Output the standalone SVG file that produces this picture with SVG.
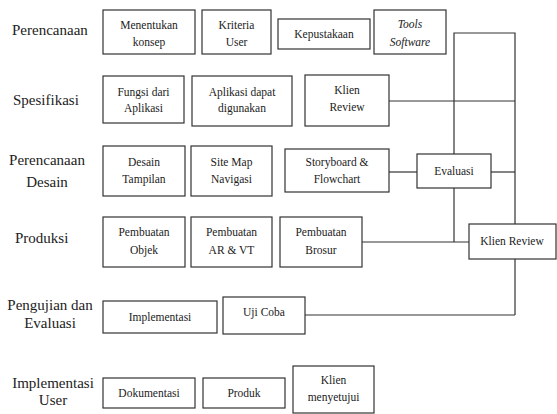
<svg xmlns="http://www.w3.org/2000/svg" width="557" height="414" viewBox="0 0 557 414">
<style>
.bg{fill:#fff}
.box{fill:#fff;stroke:#333;stroke-width:1.2}
.ln{fill:none;stroke:#333;stroke-width:1.2}
.lbl{font-family:'Liberation Serif','Times New Roman',serif;font-size:15px;fill:#222}
.t{font-family:'Liberation Serif','Times New Roman',serif;font-size:11.5px;fill:#222;text-anchor:middle}
.it{font-style:italic}
</style>
<rect class="bg" x="0" y="0" width="557" height="414"/>
<g id="connectors">
<polyline class="ln" points="454,188 454,33 515,33 515,224"/>
<line class="ln" x1="515" y1="259" x2="515" y2="315"/>
<line class="ln" x1="389" y1="101" x2="515" y2="101"/>
<line class="ln" x1="389" y1="172" x2="417" y2="172"/>
<line class="ln" x1="491" y1="172" x2="515" y2="172"/>
<line class="ln" x1="454" y1="188" x2="454" y2="242"/>
<line class="ln" x1="362" y1="242" x2="469" y2="242"/>
<line class="ln" x1="305" y1="315" x2="515" y2="315"/>
</g>
<g id="labels">
<text class="lbl" x="12" y="35">Perencanaan</text>
<text class="lbl" x="13" y="105">Spesifikasi</text>
<text class="lbl" x="47" y="165" text-anchor="middle">Perencanaan</text>
<text class="lbl" x="47" y="187" text-anchor="middle">Desain</text>
<text class="lbl" x="15" y="243">Produksi</text>
<text class="lbl" x="50" y="310" text-anchor="middle">Pengujian dan</text>
<text class="lbl" x="50" y="328" text-anchor="middle">Evaluasi</text>
<text class="lbl" x="53" y="388" text-anchor="middle">Implementasi</text>
<text class="lbl" x="53" y="405" text-anchor="middle">User</text>
</g>
<g id="menentukan-konsep"><rect class="box" x="103" y="10" width="92" height="44"/><text class="t" x="149" y="29">Menentukan</text><text class="t" x="149" y="46">konsep</text></g>
<g id="kriteria-user"><rect class="box" x="202" y="10" width="69" height="44"/><text class="t" x="236.5" y="29">Kriteria</text><text class="t" x="236.5" y="46">User</text></g>
<g id="kepustakaan"><rect class="box" x="278" y="19" width="92" height="30"/><text class="t" x="324" y="38">Kepustakaan</text></g>
<g id="tools-software"><rect class="box" x="374" y="10" width="72" height="44"/><text class="t it" x="410" y="28">Tools</text><text class="t it" x="410" y="46">Software</text></g>
<g id="fungsi-aplikasi"><rect class="box" x="103" y="76" width="81" height="47"/><text class="t" x="143.5" y="96">Fungsi dari</text><text class="t" x="143.5" y="112">Aplikasi</text></g>
<g id="aplikasi-digunakan"><rect class="box" x="192" y="76" width="100" height="50"/><text class="t" x="242" y="96">Aplikasi dapat</text><text class="t" x="242" y="112">digunakan</text></g>
<g id="klien-review-1"><rect class="box" x="305" y="75" width="84" height="51"/><text class="t" x="347" y="94">Klien</text><text class="t" x="347" y="111">Review</text></g>
<g id="desain-tampilan"><rect class="box" x="103" y="146" width="82" height="50"/><text class="t" x="144" y="166">Desain</text><text class="t" x="144" y="183">Tampilan</text></g>
<g id="site-map"><rect class="box" x="191" y="146" width="81" height="50"/><text class="t" x="231.5" y="166">Site Map</text><text class="t" x="231.5" y="183">Navigasi</text></g>
<g id="storyboard"><rect class="box" x="285" y="149" width="104" height="43"/><text class="t" x="337" y="166">Storyboard &amp;</text><text class="t" x="337" y="183">Flowchart</text></g>
<g id="evaluasi"><rect class="box" x="417" y="154" width="74" height="34"/><text class="t" x="454" y="175">Evaluasi</text></g>
<g id="pembuatan-objek"><rect class="box" x="103" y="217" width="82" height="50"/><text class="t" x="144" y="236">Pembuatan</text><text class="t" x="144" y="254">Objek</text></g>
<g id="pembuatan-arvt"><rect class="box" x="191" y="217" width="81" height="50"/><text class="t" x="231.5" y="236">Pembuatan</text><text class="t" x="231.5" y="254">AR &amp; VT</text></g>
<g id="pembuatan-brosur"><rect class="box" x="280" y="217" width="82" height="50"/><text class="t" x="321" y="236">Pembuatan</text><text class="t" x="321" y="254">Brosur</text></g>
<g id="klien-review-2"><rect class="box" x="469" y="224" width="87" height="35"/><text class="t" x="512" y="245">Klien Review</text></g>
<g id="implementasi"><rect class="box" x="103" y="301" width="114" height="32"/><text class="t" x="160" y="321">Implementasi</text></g>
<g id="uji-coba"><rect class="box" x="223" y="297" width="82" height="37"/><text class="t" x="264" y="316">Uji Coba</text></g>
<g id="dokumentasi"><rect class="box" x="103" y="378" width="92" height="30"/><text class="t" x="149" y="397">Dokumentasi</text></g>
<g id="produk"><rect class="box" x="203" y="378" width="82" height="30"/><text class="t" x="244" y="397">Produk</text></g>
<g id="klien-menyetujui"><rect class="box" x="293" y="366" width="81" height="47"/><text class="t" x="333.5" y="384">Klien</text><text class="t" x="333.5" y="401">menyetujui</text></g>
</svg>
